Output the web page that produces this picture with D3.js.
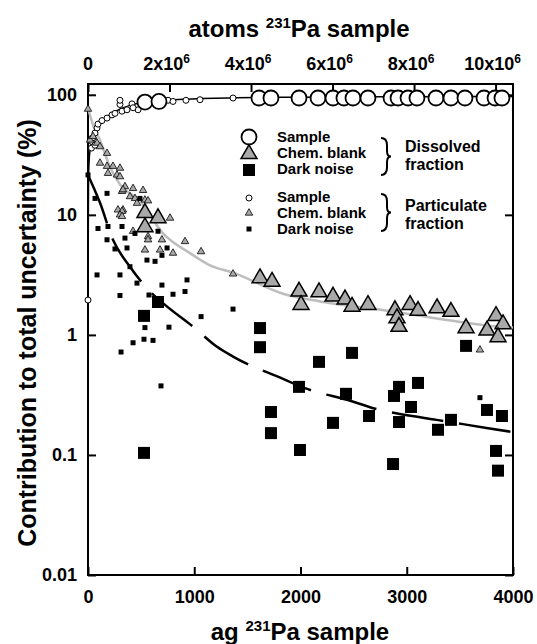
<!DOCTYPE html>
<html lang="en">
<head>
<meta charset="UTF-8">
<title>Contribution to total uncertainty</title>
<script src="https://d3js.org/d3.v7.min.js"></script>
<style>
  body { margin: 0; background: #fff; }
  text { font-family: "Liberation Sans", Arial, Helvetica, sans-serif; font-weight: bold; fill: #000; }
</style>
</head>
<body>
<svg id="chart" width="537" height="644"></svg>
<script>
// values: [ag 231Pa, % of total uncertainty]
var dissolvedSample = [[536,87],[668,88],[1609,94],[1722,94],[1986,94],[2165,94],[2306,94],[2409,94],[2494,94],
  [2635,94],[2852,94],[2918,94],[3012,94],[3096,94],[3275,94],[3416,94],[3548,94],[3727,94],[3831,94],[3896,94]];
var dissolvedBlank = [[536,10.4],[659,9.4],[536,7.9],[1619,2.97],[1732,2.78],[1986,2.30],[2005,1.78],[2174,2.27],
  [2306,2.09],[2419,1.98],[2485,1.72],[2635,1.78],[2889,1.61],[2908,1.38],[2927,1.17],[3031,1.78],[3106,1.59],
  [3285,1.67],[3416,1.56],[3558,1.14],[3755,1.09],[3840,1.44],[3906,1.23],[3859,0.96]];
var dissolvedDark = [[527,1.44],[659,1.88],[527,0.104],[1619,1.14],[1619,0.79],[1722,0.228],[1722,0.152],
  [1986,0.369],[1995,0.110],[2174,0.596],[2306,0.185],[2428,0.323],[2485,0.708],[2645,0.211],[2871,0.084],
  [2880,0.310],[2927,0.369],[2927,0.188],[3040,0.251],[3106,0.398],[3294,0.162],[3416,0.196],[3558,0.81],
  [3755,0.237],[3896,0.211],[3840,0.108],[3859,0.074]];

var particulateSample = [[0,1.95],[33,36],[33,41],[47,44],[66,48],[66,38],[85,53],[94,57],[132,61],[179,64],
  [226,68],[254,70],[320,73],[367,75],[471,75],[301,83],[414,84],[424,78],[301,90],[753,90],[800,88],[922,90],
  [1054,91],[1365,94],[3689,94]];
var particulateBlank = [[0,76],[19,42],[47,45],[85,39.6],[113,37],[113,27],[179,32.6],[179,25.4],[188,22.2],
  [235,25.4],[273,21.5],[301,24.5],[301,20.8],[320,15.7],[348,17.2],[329,16.2],[395,14.2],[424,16.6],[442,13.7],
  [518,16.0],[461,12.5],[536,13.3],[565,13.1],[282,11],[329,11],[320,10.7],[301,10],[320,9.7],[772,9.4],
  [424,7.3],[565,6.6],[565,6.2],[696,6.2],[678,5.1],[536,5.1],[800,4.8],[913,6.0],[1064,4.94],[1365,3.22],[3689,0.75]];
var particulateDark = [[0,21.5],[66,13.7],[179,15.1],[188,8.0],[94,7.7],[179,6.2],[254,5.2],[320,8.0],[348,6.4],
  [367,5.3],[442,7.0],[489,13.7],[659,7.3],[555,4.2],[631,4.1],[696,4.6],[744,5.3],[395,3.7],[85,3.16],[301,3.16],
  [461,2.7],[696,2.6],[932,2.87],[301,2.13],[574,2.15],[800,2.18],[913,2.3],[1064,1.42],[1365,1.64],[536,1.15],
  [762,1.16],[424,0.86],[527,0.92],[612,0.90],[311,0.72],[687,0.376],[3689,0.30]];

// fitted curves
var fitSample = [[0,2],[5,20],[15,32],[40,42],[85,52],[150,62],[250,72],[400,82],[600,88],[900,92],[1400,94.5],
  [2000,95.5],[3000,96.5],[4000,97]];
var fitBlank = [[0,78],[50,55],[113,42],[207,25],[300,18],[490,13],[706,7.0],[960,4.8],[1148,3.8],[1365,3.3],
  [1835,2.2],[2184,1.9],[2800,1.6],[3755,1.2],[4000,1.15]];
var fitDark = [[0,21.5],[113,12.6],[235,6.2],[395,3.7],[583,2.3],[725,1.78],[1000,1.15],[1211,0.80],[1365,0.66],
  [1835,0.43],[2042,0.36],[2482,0.28],[2654,0.25],[3125,0.206],[3282,0.196],[3765,0.167],[4000,0.155]];

var xTicks = [0, 1000, 2000, 3000, 4000];
var yTicks = [0.01, 0.1, 1, 10, 100];
var yTickLabels = ["0.01", "0.1", "1", "10", "100"];
var topTicks = [0, 2e6, 4e6, 6e6, 8e6, 10e6];
var topMantissa = ["0", "2", "4", "6", "8", "10"];

var svg = d3.select("#chart");
var pl = 88, pr = 513, pt = 84, pb = 575;
var agToAtoms = 6.022e23 * 1e-18 / 231;

var x = d3.scaleLinear().domain([0, 4000]).range([pl, pr]);
var xTop = d3.scaleLinear().domain([0, 4000 * agToAtoms]).range([pl, pr]);
var y = d3.scaleLog().domain([0.01, 123]).range([pb, pt]);

function styleAxis(g) {
  g.select(".domain").remove();
  g.selectAll(".tick line").attr("stroke", "#000").attr("stroke-width", 2);
  g.selectAll(".tick text").style("font-size", "18px");
}

svg.append("g").attr("transform", "translate(0," + pb + ")")
  .call(d3.axisBottom(x).tickValues(xTicks).tickSize(-8).tickPadding(15).tickFormat(d3.format("d")))
  .call(styleAxis);
svg.append("g").attr("transform", "translate(" + pl + ",0)")
  .call(d3.axisLeft(y).tickValues(yTicks).tickSize(-8).tickPadding(11).tickFormat(function(d, i){ return yTickLabels[i]; }))
  .call(styleAxis);
svg.append("g").attr("transform", "translate(" + pr + ",0)")
  .call(d3.axisRight(y).tickValues(yTicks).tickSize(-8).tickFormat(""))
  .call(styleAxis);
svg.append("g").attr("transform", "translate(0," + pt + ")")
  .call(d3.axisTop(xTop).tickValues(topTicks).tickSize(-8).tickFormat(""))
  .call(styleAxis);

// top tick labels with superscript exponent
var tl = svg.append("g").selectAll("text").data(topTicks).enter().append("text")
  .attr("x", function(d){ return xTop(d) + (d ? -3 : 0); })
  .attr("y", 70)
  .attr("text-anchor", "middle")
  .style("font-size", "18px");
tl.append("tspan").text(function(d, i){ return d ? topMantissa[i] + "x10" : topMantissa[i]; });
tl.filter(function(d){ return d; }).append("tspan").attr("dy", -7).style("font-size", "12px").text("6");

svg.append("rect").attr("x", pl).attr("y", pt).attr("width", pr - pl).attr("height", pb - pt)
  .attr("fill", "none").attr("stroke", "#000").attr("stroke-width", 2);

// titles
var t1 = svg.append("text").attr("x", 299).attr("y", 37).attr("text-anchor", "middle").style("font-size", "24px");
t1.append("tspan").text("atoms ");
t1.append("tspan").attr("dy", -9).style("font-size", "15px").text("231");
t1.append("tspan").attr("dy", 9).text("Pa sample");

var t2 = svg.append("text").attr("x", 300).attr("y", 640).attr("text-anchor", "middle").style("font-size", "24px");
t2.append("tspan").text("ag ");
t2.append("tspan").attr("dy", -9).style("font-size", "15px").text("231");
t2.append("tspan").attr("dy", 9).text("Pa sample");

svg.append("text").attr("transform", "translate(36,333) rotate(-90)").attr("text-anchor", "middle")
  .style("font-size", "25px").text("Contribution to total uncertainty (%)");

// fit lines
var line = d3.line().x(function(d){ return x(d[0]); }).y(function(d){ return y(d[1]); }).curve(d3.curveMonotoneX);
svg.append("path").datum(fitBlank).attr("d", line).attr("fill", "none").attr("stroke", "#bdbdbd").attr("stroke-width", 2.5);
svg.append("path").datum(fitDark).attr("d", line).attr("fill", "none").attr("stroke", "#000").attr("stroke-width", 2.5)
  .attr("stroke-dasharray", "52,16");
svg.append("path").datum(fitSample).attr("d", line).attr("fill", "none").attr("stroke", "#000").attr("stroke-width", 1.5);

// symbols
var grey = "#a9a9a9";
function circles(data, r, sw) {
  svg.append("g").selectAll("circle").data(data).enter().append("circle")
    .attr("cx", function(d){ return x(d[0]); }).attr("cy", function(d){ return y(d[1]); })
    .attr("r", r).attr("fill", "#fff").attr("stroke", "#000").attr("stroke-width", sw);
}
function symbols(data, type, size, fill, sw) {
  svg.append("g").selectAll("path").data(data).enter().append("path")
    .attr("transform", function(d){ return "translate(" + x(d[0]) + "," + y(d[1]) + ")"; })
    .attr("d", d3.symbol().type(type).size(size))
    .attr("fill", fill).attr("stroke", "#000").attr("stroke-width", sw);
}
circles(particulateSample, 3, 1);
symbols(particulateBlank, d3.symbolTriangle, 24, grey, 0.8);
symbols(particulateDark, d3.symbolSquare, 25, "#000", 0);
circles(dissolvedSample, 7.5, 1.8);
symbols(dissolvedBlank, d3.symbolTriangle, 110, grey, 1.5);
symbols(dissolvedDark, d3.symbolSquare, 144, "#000", 0);

// legend
var lg = svg.append("g");
lg.append("circle").attr("cx", 249).attr("cy", 137).attr("r", 7.5).attr("fill", "#fff").attr("stroke", "#000").attr("stroke-width", 1.8);
lg.append("path").attr("transform", "translate(249,154)").attr("d", d3.symbol().type(d3.symbolTriangle).size(110)).attr("fill", grey).attr("stroke", "#000").attr("stroke-width", 1.5);
lg.append("path").attr("transform", "translate(249,170)").attr("d", d3.symbol().type(d3.symbolSquare).size(144)).attr("fill", "#000");
lg.append("circle").attr("cx", 249).attr("cy", 198).attr("r", 3).attr("fill", "#fff").attr("stroke", "#000").attr("stroke-width", 1);
lg.append("path").attr("transform", "translate(249,213)").attr("d", d3.symbol().type(d3.symbolTriangle).size(24)).attr("fill", grey).attr("stroke", "#000").attr("stroke-width", 0.8);
lg.append("path").attr("transform", "translate(249,229)").attr("d", d3.symbol().type(d3.symbolSquare).size(25)).attr("fill", "#000");

var legendRows = ["Sample", "Chem. blank", "Dark noise"];
[[142, 158, 174], [202, 218, 234]].forEach(function(ys){
  ys.forEach(function(yy, i){
    lg.append("text").attr("x", 277).attr("y", yy).style("font-size", "15px").text(legendRows[i]);
  });
});
[["Dissolved", "fraction", 152, 170], ["Particulate", "fraction", 211, 229]].forEach(function(g){
  lg.append("text").attr("x", 405).attr("y", g[2]).style("font-size", "16px").text(g[0]);
  lg.append("text").attr("x", 405).attr("y", g[3]).style("font-size", "16px").text(g[1]);
});

function brace(bx, y0, y1, w) {
  var m = (y0 + y1) / 2, h = y1 - y0;
  return "M" + bx + "," + y0 + " Q" + (bx + 0.6*w) + "," + y0 + " " + (bx + 0.6*w) + "," + (y0 + 0.2*h) +
    " L" + (bx + 0.6*w) + "," + (m - 0.15*h) + " Q" + (bx + 0.6*w) + "," + m + " " + (bx + w) + "," + m +
    " Q" + (bx + 0.6*w) + "," + m + " " + (bx + 0.6*w) + "," + (m + 0.15*h) +
    " L" + (bx + 0.6*w) + "," + (y1 - 0.2*h) + " Q" + (bx + 0.6*w) + "," + y1 + " " + bx + "," + y1;
}
lg.append("path").attr("d", brace(381, 138, 175, 10)).attr("fill", "none").attr("stroke", "#000").attr("stroke-width", 2);
lg.append("path").attr("d", brace(381, 194, 231, 10)).attr("fill", "none").attr("stroke", "#000").attr("stroke-width", 2);
</script>
</body>
</html>
